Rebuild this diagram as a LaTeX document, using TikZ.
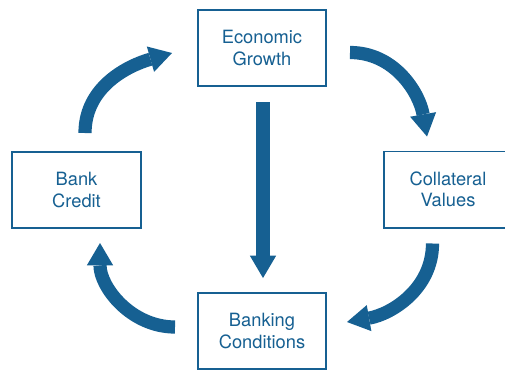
\documentclass[tikz,border=0pt]{standalone}
\usepackage{fontspec}
\setmainfont{TeX Gyre Heros}
\usetikzlibrary{arrows.meta}
\definecolor{cycleblue}{RGB}{22,96,146}

\begin{document}
\begin{tikzpicture}[x=0.025cm, y=0.025cm,
    box/.style={draw=cycleblue, line width=1.4pt, fill=white, text=cycleblue,
        align=center, minimum width=3.2cm, minimum height=1.9cm,
        font=\fontsize{13}{15}\selectfont},
    flow/.style={draw=cycleblue, line width=0.33cm,
        -{Triangle[width=0.66cm, length=0.56cm, line width=0pt]}}]

\useasboundingbox (0,0) rectangle (505,-370);

\node [box] (growth) at (262,-48)   {Economic\\Growth};
\node [box] (credit) at (76.5,-190) {Bank\\Credit};
\node [box] (values) at (448,-189.5) {Collateral\\Values};
\node [box] (cond)   at (262,-331)  {Banking\\Conditions};

\draw [flow] ([shift={(1,-15)}]growth.south) -- ([shift={(1,14)}]cond.north);

\draw [flow] ([shift={(8.5,18)}]credit.north)  to[out=90, in=196]  ([shift={(-25,-5)}]growth.west);
\draw [flow] ([shift={(23,-4.5)}]growth.east)  to[out=0, in=100]   ([shift={(-21,14)}]values.north);
\draw [flow] ([shift={(-15.5,-15)}]values.south) to[out=-90, in=10] ([shift={(20,9)}]cond.east);
\draw [flow] ([shift={(-22,4)}]cond.west)      to[out=180, in=-90] ([shift={(23.5,-14)}]credit.south);

\end{tikzpicture}
\end{document}
